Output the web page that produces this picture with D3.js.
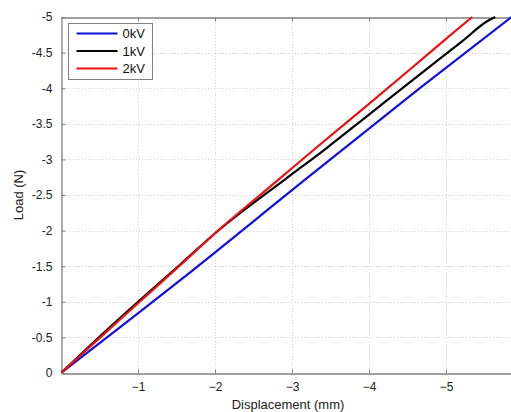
<!DOCTYPE html>
<html>
<head>
<meta charset="utf-8">
<script src="https://cdn.jsdelivr.net/npm/d3@7"></script>
<style>
  body { margin: 0; background: #fff; }
  svg { display: block; font-family: "Liberation Sans", Arial, sans-serif; }
</style>
</head>
<body>
<div id="chart"></div>
<script>
// data (displacement in mm, load in N)
var series_names = ['0kV', '1kV', '2kV'];
var series_colors = ['#1010e0', '#000000', '#ee1010'];

var disp_0kv = [0, -1.545, -3.21, -4.66, -5.85];
var load_0kv = [0, -1.30, -2.75, -4.0, -5.0];

var disp_1kv = [0, -0.5, -1.0, -1.545, -2.02, -2.91, -3.45, -4.0, -4.62, -5.2, -5.55, -5.64];
var load_1kv = [0, -0.51, -1.0, -1.52, -1.98, -2.72, -3.16, -3.63, -4.16, -4.65, -4.95, -5.0];

var disp_2kv = [0, -0.5, -1.0, -1.545, -2.02, -2.84, -3.31, -4.0, -4.55, -5.03, -5.34];
var load_2kv = [0, -0.49, -0.98, -1.51, -1.98, -2.73, -3.16, -3.78, -4.28, -4.72, -5.0];

var x_ticks = [-1, -2, -3, -4, -5];
var y_ticks = [0, -0.5, -1, -1.5, -2, -2.5, -3, -3.5, -4, -4.5, -5];

var x_label = 'Displacement (mm)';
var y_label = 'Load (N)';

var width = 511;
var height = 412;

var left = 61;
var right = 512;
var top_ = 17;
var bottom = 373;

var x = d3.scaleLinear().domain([0, -5.857]).range([left, right]);
var y = d3.scaleLinear().domain([0, -5]).range([bottom, top_]);

var svg = d3.select('#chart')
  .append('svg')
    .attr('width', width)
    .attr('height', height);

// grid lines
svg.append('g')
    .selectAll('line.x-grid')
    .data(x_ticks)
  .enter()
    .append('line')
    .attr('stroke', '#d4d4d4')
    .attr('stroke-width', 1)
    .attr('stroke-dasharray', '1,2')
    .attr('x1', function(d) { return Math.round(x(d)) + 0.5; })
    .attr('x2', function(d) { return Math.round(x(d)) + 0.5; })
    .attr('y1', top_)
    .attr('y2', bottom);

svg.append('g')
    .selectAll('line.y-grid')
    .data(y_ticks.slice(1, -1))
  .enter()
    .append('line')
    .attr('stroke', '#d4d4d4')
    .attr('stroke-width', 1)
    .attr('stroke-dasharray', '1,2')
    .attr('y1', function(d) { return Math.round(y(d)) + 0.5; })
    .attr('y2', function(d) { return Math.round(y(d)) + 0.5; })
    .attr('x1', left)
    .attr('x2', right);

// axes, matlab style: ticks inward, box all round
var axis_color = '#808080';

var x_axis = svg.append('g')
    .attr('transform', 'translate(0,' + (bottom + 0.5) + ')')
    .call(d3.axisBottom(x).tickValues(x_ticks).tickSizeInner(-4).tickSizeOuter(0).tickPadding(9)
        .tickFormat(d3.format('')));
var x_axis_top = svg.append('g')
    .attr('transform', 'translate(0,' + (top_ + 0.5) + ')')
    .call(d3.axisTop(x).tickValues(x_ticks).tickSizeInner(-4).tickSizeOuter(0).tickFormat(''));
var y_axis = svg.append('g')
    .attr('transform', 'translate(' + (left + 0.5) + ',0)')
    .call(d3.axisLeft(y).tickValues(y_ticks).tickSizeInner(-4).tickSizeOuter(0).tickPadding(9)
        .tickFormat(function(d) { return d === 0 ? '0' : String(d); }));

[x_axis, x_axis_top, y_axis].forEach(function(a) {
    a.select('.domain').attr('stroke', axis_color).attr('stroke-width', 1.3);
    a.selectAll('.tick line').attr('stroke', axis_color);
    a.selectAll('.tick text')
        .attr('fill', '#222')
        .attr('font-size', '12px')
        .attr('font-family', '"Liberation Sans", Arial, sans-serif');
});
x_axis.selectAll('.tick text').attr('dy', '0.71em');

// curves
var all_disp = [disp_0kv, disp_1kv, disp_2kv];
var all_load = [load_0kv, load_1kv, load_2kv];

var line = d3.line()
    .curve(d3.curveMonotoneX)
    .x(function(d) { return x(d[0]); })
    .y(function(d) { return y(d[1]); });

svg.append('clipPath').attr('id', 'clip')
  .append('rect')
    .attr('x', left).attr('y', top_ - 1)
    .attr('width', right - left).attr('height', bottom - top_ + 1);

for (var i = 0; i < series_names.length; i++) {
    var pts = d3.zip(all_disp[i], all_load[i]);
    svg.append('path')
        .datum(pts)
        .attr('clip-path', 'url(#clip)')
        .attr('fill', 'none')
        .attr('stroke', series_colors[i])
        .attr('stroke-width', 2.2)
        .attr('d', line);
}

// legend
var leg = svg.append('g').attr('transform', 'translate(68.5,23.5)');
leg.append('rect')
    .attr('width', 84)
    .attr('height', 56)
    .attr('fill', '#fff')
    .attr('stroke', axis_color)
    .attr('stroke-width', 1);

leg.selectAll('line.legend')
    .data(series_names)
  .enter()
    .append('line')
    .attr('stroke', function(d, i) { return series_colors[i]; })
    .attr('stroke-width', 2.2)
    .attr('x1', 8)
    .attr('x2', 49)
    .attr('y1', function(d, i) { return 10 + i * 17.5; })
    .attr('y2', function(d, i) { return 10 + i * 17.5; });

leg.selectAll('text.legend')
    .data(series_names)
  .enter()
    .append('text')
    .attr('font-size', '13px')
    .attr('fill', '#111')
    .attr('x', 54)
    .attr('y', function(d, i) { return 10 + i * 17.5; })
    .attr('dy', '0.35em')
    .text(function(d) { return d; });

// axis labels
svg.append('text')
    .attr('font-size', '13px')
    .attr('fill', '#222')
    .style('text-anchor', 'middle')
    .attr('x', 288)
    .attr('y', 409)
    .text(x_label);

svg.append('text')
    .attr('font-size', '13px')
    .attr('fill', '#222')
    .style('text-anchor', 'middle')
    .attr('transform', 'translate(23,' + ((top_ + bottom) / 2) + ') rotate(-90)')
    .text(y_label);
</script>
</body>
</html>
